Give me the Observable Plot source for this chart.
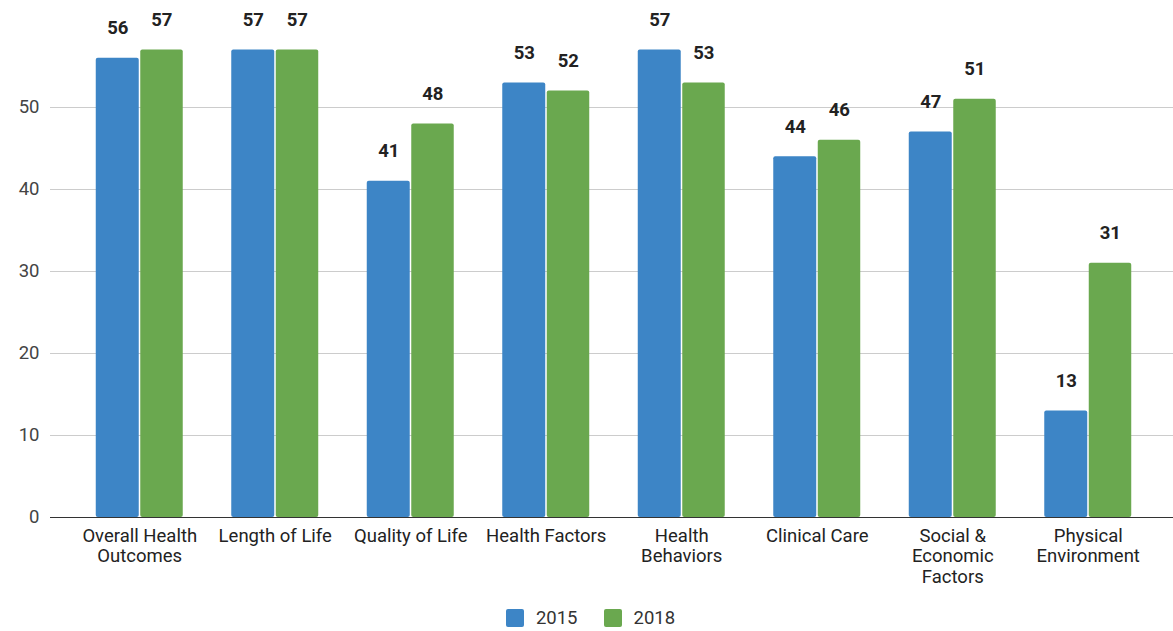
<!DOCTYPE html>
<html>
<head>
<meta charset="utf-8">
<script src="https://cdn.jsdelivr.net/npm/d3@7"></script>
<script src="https://cdn.jsdelivr.net/npm/@observablehq/plot@0.6"></script>
<style>
  html, body { margin: 0; padding: 0; background: #fff; }
  body { width: 1173px; height: 631px; overflow: hidden; font-family: Roboto, "Noto Sans", sans-serif; }
  #chart svg { display: block; }
  #legend { display: flex; justify-content: center; align-items: center; height: 31px; margin-top: 2px; gap: 26px; padding-left: 8px; font-family: Roboto, sans-serif; font-size: 18.5px; color: #333; }
  #legend .item { display: flex; align-items: center; gap: 12px; }
  #legend .sw { width: 18px; height: 18px; border-radius: 2px; display: inline-block; }
</style>
</head>
<body>
<div id="chart"></div>
<div id="legend"></div>
<script>
const categories = ["Overall Health Outcomes", "Length of Life", "Quality of Life", "Health Factors", "Health Behaviors", "Clinical Care", "Social & Economic Factors", "Physical Environment"];
const tickLabels = ["Overall Health\nOutcomes", "Length of Life", "Quality of Life", "Health Factors", "Health\nBehaviors", "Clinical Care", "Social &\nEconomic\nFactors", "Physical\nEnvironment"];
const years = ["2015", "2018"];
const values2015 = [56, 57, 41, 53, 57, 44, 47, 13];
const values2018 = [57, 57, 48, 52, 53, 46, 51, 31];
const yTicks = [0, 10, 20, 30, 40, 50];
const colors = ["#3d85c6", "#6aa84f"];

const rows = categories.map((c, i) => ({category: c, label: tickLabels[i], v2015: values2015[i], v2018: values2018[i]}));
const labelOf = new Map(categories.map((c, i) => [c, tickLabels[i]]));

const font = "Roboto, sans-serif";
const chart = Plot.plot({
  width: 1173,
  height: 600,
  marginLeft: 50,
  marginRight: 0,
  marginTop: 25,
  marginBottom: 83,
  style: {fontFamily: font, background: "#fff"},
  x: {domain: categories, range: [71.5, 1155.5], paddingInner: 0.358, paddingOuter: 0.179, round: false, label: null},
  y: {domain: [0, 60], label: null},
  marks: [
    Plot.ruleY(yTicks.filter(d => d > 0), {stroke: "#cccccc", strokeWidth: 1}),
    Plot.barY(rows, {x: "category", y: "v2015", fill: colors[0], insetRight: 44, rx: 2}),
    Plot.barY(rows, {x: "category", y: "v2018", fill: colors[1], insetLeft: 44.5, rx: 2}),
    Plot.ruleY([0], {stroke: "#333333", strokeWidth: 1.2}),
    Plot.text(rows, {x: "category", y: "v2015", text: d => String(d.v2015), dx: -22, dy: -24, lineAnchor: "bottom", fontWeight: "bold", fontSize: 18.5, fill: "#222"}),
    Plot.text(rows, {x: "category", y: "v2018", text: d => String(d.v2018), dx: 22, dy: -24, lineAnchor: "bottom", fontWeight: "bold", fontSize: 18.5, fill: "#222"}),
    Plot.axisY({ticks: yTicks, tickSize: 0, tickPadding: 11, fontSize: 18.5, fill: "#444", label: null}),
    Plot.axisX({tickSize: 0, tickPadding: 10, fontSize: 18.5, lineHeight: 1.1, fill: "#222", tickFormat: d => labelOf.get(d), label: null})
  ]
});
document.getElementById("chart").appendChild(chart);

const legend = document.getElementById("legend");
years.forEach((y, i) => {
  const item = document.createElement("div");
  item.className = "item";
  const sw = document.createElement("span");
  sw.className = "sw";
  sw.style.background = colors[i];
  const t = document.createElement("span");
  t.textContent = y;
  item.appendChild(sw);
  item.appendChild(t);
  legend.appendChild(item);
});
</script>
</body>
</html>
